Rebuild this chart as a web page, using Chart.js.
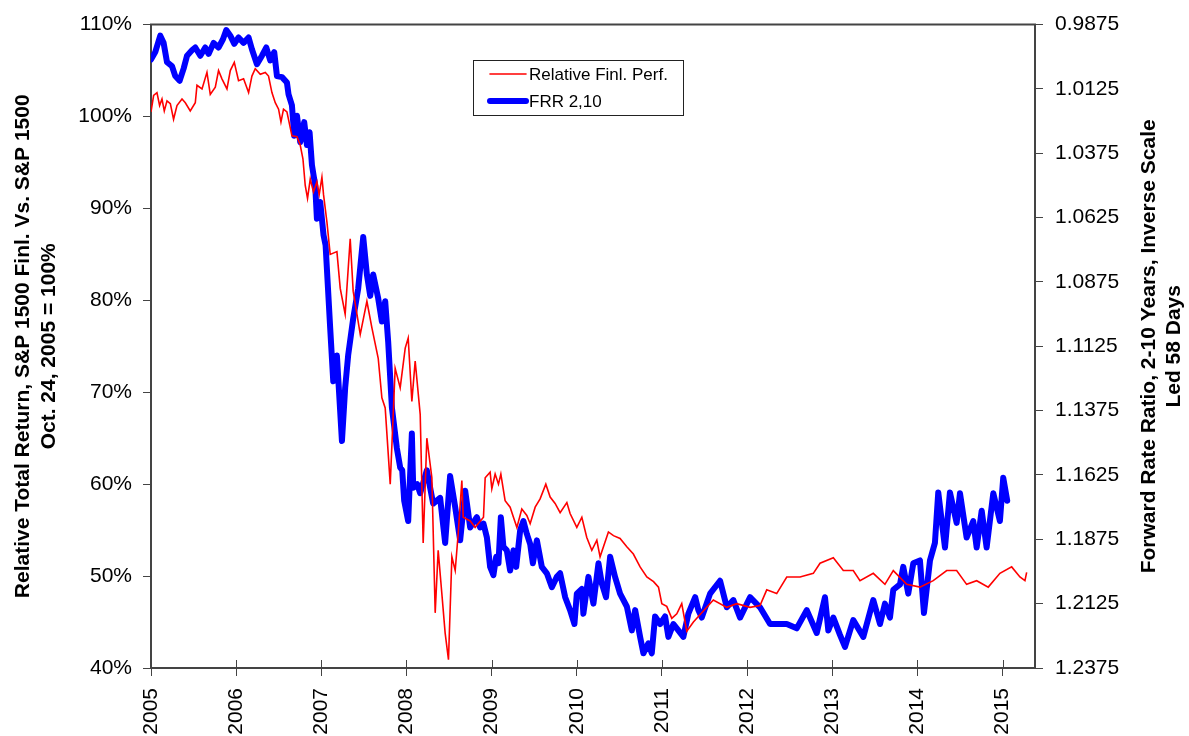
<!DOCTYPE html>
<html>
<head>
<meta charset="utf-8">
<script src="https://cdn.jsdelivr.net/npm/chart.js@4.4.1/dist/chart.umd.min.js"></script>
<style>
  html, body { margin: 0; padding: 0; background: #fff; }
  canvas { display: block; }
</style>
</head>
<body>
<canvas id="chart" width="1189" height="736"></canvas>
<script>
// Relative total return, S&P 1500 Financials vs S&P 1500 (%)
const relYears = [2005.000, 2005.031, 2005.070, 2005.101, 2005.129, 2005.156, 2005.188, 2005.227, 2005.265, 2005.305,
    2005.364, 2005.403, 2005.461, 2005.520, 2005.540, 2005.599, 2005.657, 2005.696, 2005.755, 2005.793,
    2005.833, 2005.892, 2005.931, 2005.978, 2006.028, 2006.087, 2006.146, 2006.185, 2006.224, 2006.283,
    2006.342, 2006.380, 2006.420, 2006.459, 2006.498, 2006.526, 2006.556, 2006.596, 2006.655, 2006.714,
    2006.752, 2006.784, 2006.811, 2006.838, 2006.870, 2006.908, 2006.948, 2006.975, 2007.007, 2007.026,
    2007.066, 2007.104, 2007.183, 2007.222, 2007.280, 2007.339, 2007.374, 2007.457, 2007.535, 2007.594,
    2007.668, 2007.711, 2007.750, 2007.809, 2007.867, 2007.926, 2007.985, 2008.020, 2008.063, 2008.102,
    2008.161, 2008.196, 2008.239, 2008.298, 2008.337, 2008.372, 2008.415, 2008.454, 2008.493, 2008.533,
    2008.572, 2008.607, 2008.650, 2008.666, 2008.748, 2008.806, 2008.904, 2008.924, 2008.982, 2009.002,
    2009.041, 2009.080, 2009.108, 2009.158, 2009.217, 2009.256, 2009.296, 2009.354, 2009.413, 2009.452,
    2009.511, 2009.569, 2009.636, 2009.687, 2009.745, 2009.804, 2009.883, 2009.921, 2010.000, 2010.059,
    2010.117, 2010.176, 2010.235, 2010.273, 2010.371, 2010.430, 2010.508, 2010.587, 2010.664, 2010.743,
    2010.822, 2010.901, 2010.959, 2010.998, 2011.056, 2011.115, 2011.174, 2011.232, 2011.291, 2011.369,
    2011.427, 2011.603, 2011.761, 2011.878, 2012.034, 2012.151, 2012.230, 2012.347, 2012.465, 2012.621,
    2012.777, 2012.856, 2013.012, 2013.129, 2013.246, 2013.325, 2013.481, 2013.618, 2013.716, 2013.873,
    2014.029, 2014.185, 2014.343, 2014.460, 2014.577, 2014.695, 2014.831, 2014.968, 2015.106, 2015.203,
    2015.262, 2015.282];
const relValues = [100.5, 102.3, 102.6, 101.2, 101.9, 100.6, 101.7, 101.4, 99.7, 101.2,
    101.9, 101.5, 100.6, 101.5, 103.4, 103.0, 104.8, 102.4, 103.2, 105.0,
    104.1, 103.0, 105.0, 105.9, 103.9, 104.1, 102.6, 104.4, 105.2, 104.6,
    104.8, 104.4, 102.6, 101.5, 100.8, 99.4, 100.8, 100.5, 97.9, 97.8,
    96.9, 95.4, 92.5, 91.1, 93.2, 91.8, 92.9, 91.5, 93.4, 91.5,
    88.5, 85.0, 85.3, 81.3, 78.5, 86.7, 81.0, 76.3, 79.9, 77.0,
    73.7, 69.4, 68.3, 60.0, 72.6, 70.5, 74.8, 75.9, 69.0, 73.4,
    67.6, 53.6, 65.0, 60.7, 46.0, 52.8, 48.1, 43.8, 40.9, 52.1,
    50.6, 54.6, 60.4, 56.4, 56.0, 55.3, 56.4, 60.7, 61.3, 59.5,
    61.1, 60.0, 61.1, 58.2, 57.5, 56.4, 55.3, 57.3, 56.6, 55.7,
    57.5, 58.4, 60.0, 58.6, 57.9, 56.9, 58.0, 56.8, 55.3, 56.4,
    54.2, 52.8, 53.9, 52.1, 54.8, 54.4, 54.1, 53.2, 52.4, 51.0,
    49.9, 49.4, 48.8, 47.0, 46.7, 45.4, 45.9, 47.0, 44.0, 45.0,
    45.6, 47.4, 46.6, 47.0, 46.6, 46.8, 48.5, 48.1, 49.9, 49.9,
    50.3, 51.4, 52.0, 50.6, 50.6, 49.5, 50.3, 49.1, 50.6, 49.1,
    48.8, 49.5, 50.6, 50.6, 49.1, 49.5, 48.8, 50.3, 51.0, 49.9,
    49.5, 50.4];

// Forward rate ratio 2-10 years, led 58 days (plotted on inverse scale)
const frrYears = [2005.000, 2005.050, 2005.109, 2005.148, 2005.188, 2005.246, 2005.285, 2005.336, 2005.383, 2005.423,
    2005.481, 2005.520, 2005.579, 2005.637, 2005.676, 2005.735, 2005.793, 2005.845, 2005.884, 2005.931,
    2005.978, 2006.028, 2006.087, 2006.146, 2006.185, 2006.244, 2006.303, 2006.353, 2006.400, 2006.447,
    2006.479, 2006.538, 2006.596, 2006.615, 2006.655, 2006.682, 2006.714, 2006.752, 2006.799, 2006.831,
    2006.862, 2006.890, 2006.928, 2006.948, 2006.987, 2007.026, 2007.050, 2007.104, 2007.140, 2007.183,
    2007.242, 2007.280, 2007.316, 2007.374, 2007.433, 2007.492, 2007.535, 2007.574, 2007.609, 2007.668,
    2007.711, 2007.750, 2007.785, 2007.829, 2007.887, 2007.926, 2007.950, 2007.973, 2008.020, 2008.063,
    2008.079, 2008.126, 2008.161, 2008.239, 2008.313, 2008.395, 2008.454, 2008.512, 2008.572, 2008.630,
    2008.689, 2008.748, 2008.826, 2008.865, 2008.904, 2008.944, 2008.982, 2009.021, 2009.053, 2009.080,
    2009.108, 2009.138, 2009.178, 2009.217, 2009.256, 2009.288, 2009.335, 2009.373, 2009.413, 2009.452,
    2009.484, 2009.531, 2009.589, 2009.648, 2009.707, 2009.765, 2009.804, 2009.863, 2009.921, 2009.972,
    2010.000, 2010.059, 2010.077, 2010.136, 2010.195, 2010.254, 2010.293, 2010.343, 2010.391, 2010.449,
    2010.508, 2010.587, 2010.646, 2010.685, 2010.743, 2010.782, 2010.840, 2010.880, 2010.919, 2010.978,
    2011.037, 2011.075, 2011.134, 2011.192, 2011.251, 2011.310, 2011.390, 2011.427, 2011.467, 2011.565,
    2011.682, 2011.761, 2011.838, 2011.917, 2012.034, 2012.151, 2012.269, 2012.465, 2012.582, 2012.700,
    2012.817, 2012.914, 2012.953, 2013.012, 2013.090, 2013.149, 2013.246, 2013.364, 2013.481, 2013.560,
    2013.618, 2013.677, 2013.716, 2013.795, 2013.833, 2013.892, 2013.951, 2014.029, 2014.076, 2014.147,
    2014.205, 2014.244, 2014.323, 2014.381, 2014.460, 2014.499, 2014.577, 2014.655, 2014.695, 2014.754,
    2014.812, 2014.890, 2014.968, 2015.007, 2015.054];
const frrValues = [1.0011, 0.9982, 0.9918, 0.9946, 1.0021, 1.0036, 1.0075, 1.0093, 1.0046, 0.9996,
    0.9975, 0.9964, 0.9996, 0.9964, 0.9989, 0.9946, 0.9964, 0.9932, 0.9896, 0.9918,
    0.9950, 0.9925, 0.9946, 0.9925, 0.9971, 1.0029, 0.9996, 0.9964, 1.0014, 0.9982,
    1.0075, 1.0079, 1.0100, 1.0146, 1.0189, 1.0307, 1.0229, 1.0332, 1.0254, 1.0343,
    1.0293, 1.0421, 1.0500, 1.0629, 1.0564, 1.0693, 1.0732, 1.1054, 1.1261, 1.1161,
    1.1493, 1.1286, 1.1157, 1.1018, 1.0900, 1.0700, 1.0846, 1.0929, 1.0846, 1.0939,
    1.1029, 1.0950, 1.1107, 1.1364, 1.1521, 1.1596, 1.1607, 1.1725, 1.1804, 1.1464,
    1.1675, 1.1661, 1.1696, 1.1607, 1.1736, 1.1714, 1.1889, 1.1629, 1.1750, 1.1879,
    1.1686, 1.1829, 1.1789, 1.1829, 1.1814, 1.1868, 1.1982, 1.2014, 1.1943, 1.1968,
    1.1789, 1.1904, 1.1918, 1.1996, 1.1918, 1.1982, 1.1839, 1.1804, 1.1854, 1.1893,
    1.1968, 1.1879, 1.1982, 1.2007, 1.2061, 1.2021, 1.2007, 1.2100, 1.2150, 1.2204,
    1.2086, 1.2068, 1.2164, 1.2021, 1.2125, 1.1968, 1.2046, 1.2100, 1.1943, 1.2021,
    1.2086, 1.2136, 1.2229, 1.2150, 1.2254, 1.2318, 1.2279, 1.2318, 1.2175, 1.2204,
    1.2175, 1.2254, 1.2204, 1.2229, 1.2254, 1.2164, 1.2100, 1.2150, 1.2179, 1.2086,
    1.2036, 1.2139, 1.2111, 1.2179, 1.2100, 1.2139, 1.2204, 1.2204, 1.2221, 1.2150,
    1.2239, 1.2100, 1.2229, 1.2179, 1.2246, 1.2293, 1.2189, 1.2254, 1.2111, 1.2204,
    1.2125, 1.2179, 1.2071, 1.2050, 1.1982, 1.2086, 1.1968, 1.1957, 1.2161, 1.1957,
    1.1889, 1.1693, 1.1907, 1.1693, 1.1811, 1.1696, 1.1868, 1.1804, 1.1907, 1.1764,
    1.1907, 1.1696, 1.1804, 1.1636, 1.1725];

const leftTitle = ['Relative Total Return, S&P 1500 Finl. Vs. S&P 1500', 'Oct. 24, 2005 = 100%'];
const rightTitle = ['Forward Rate Ratio, 2-10 Years, Inverse Scale', 'Led 58 Days'];
const frrTicks = [0.9875, 1.0125, 1.0375, 1.0625, 1.0875, 1.1125, 1.1375, 1.1625, 1.1875, 1.2125, 1.2375];

const FONT = "'Liberation Sans', Arial, sans-serif";
const AXIS = '#444';

const decor = {
    id: 'decor',
    afterDraw(chart) {
        const ctx = chart.ctx;
        const a = chart.chartArea;
        const x = chart.scales.x;
        ctx.save();
        // top frame line
        ctx.strokeStyle = AXIS;
        ctx.lineWidth = 2;
        ctx.beginPath();
        ctx.moveTo(a.left - 1, a.top);
        ctx.lineTo(a.right + 1, a.top);
        ctx.stroke();
        // year ticks cross the axis
        ctx.lineWidth = 1;
        x.ticks.forEach(t => {
            const px = Math.round(x.getPixelForValue(t.value)) + 0.5;
            ctx.beginPath();
            ctx.moveTo(px, a.bottom);
            ctx.lineTo(px, a.bottom - 8);
            ctx.stroke();
        });

        // axis titles, both read bottom to top
        ctx.fillStyle = '#000';
        ctx.font = 'bold 21px ' + FONT;
        ctx.textAlign = 'center';
        ctx.textBaseline = 'middle';
        const cy = (a.top + a.bottom) / 2;
        [[leftTitle, [23, 49]], [rightTitle, [1149, 1174]]].forEach(([lines, xs]) => {
            lines.forEach((txt, i) => {
                ctx.save();
                ctx.translate(xs[i], cy);
                ctx.rotate(-Math.PI / 2);
                ctx.fillText(txt, 0, 0);
                ctx.restore();
            });
        });

        // legend box
        ctx.fillStyle = '#fff';
        ctx.fillRect(473.5, 60.5, 210, 55);
        ctx.strokeStyle = '#222';
        ctx.lineWidth = 1;
        ctx.strokeRect(473.5, 60.5, 210, 55);
        ctx.font = '17px ' + FONT;
        ctx.textAlign = 'left';
        chart.data.datasets.forEach((ds, i) => {
            const ly = 74 + i * 27;
            ctx.strokeStyle = ds.borderColor;
            ctx.lineWidth = ds.borderWidth;
            ctx.lineCap = 'round';
            ctx.beginPath();
            ctx.moveTo(490, ly);
            ctx.lineTo(526, ly);
            ctx.stroke();
            ctx.fillStyle = '#000';
            ctx.fillText(ds.label, 529, ly + 1);
        });
        ctx.restore();
    }
};

const ctx = document.getElementById('chart').getContext('2d');
const chart = new Chart(ctx, {
    type: 'line',
    data: {
        datasets: [
            {
                label: 'Relative Finl. Perf.',
                data: relYears.map((yr, i) => ({ x: yr, y: relValues[i] })),
                borderColor: '#ff0000',
                borderWidth: 1.6,
                pointRadius: 0,
                tension: 0,
                yAxisID: 'y',
            },
            {
                label: 'FRR 2,10',
                data: frrYears.map((yr, i) => ({ x: yr, y: frrValues[i] })),
                borderColor: '#0000ff',
                borderWidth: 6,
                pointRadius: 0,
                tension: 0,
                borderJoinStyle: 'round',
                borderCapStyle: 'round',
                yAxisID: 'y1',
            }
        ]
    },
    options: {
        responsive: false,
        animation: false,
        layout: { padding: { top: 22, left: 0, right: 0, bottom: 0 } },
        plugins: {
            legend: { display: false },
            tooltip: { enabled: false },
        },
        scales: {
            x: {
                type: 'linear',
                position: 'bottom',
                min: 2005,
                max: 2015.38,
                afterFit: s => { s.height = 68; },
                ticks: {
                    stepSize: 1,
                    includeBounds: false,
                    minRotation: 90,
                    maxRotation: 90,
                    padding: 12,
                    color: '#000',
                    font: { family: FONT, size: 21 },
                    callback: v => String(v),
                },
                grid: { drawOnChartArea: false, tickLength: 8, color: AXIS },
                border: { color: AXIS, width: 2 },
            },
            y: {
                position: 'left',
                min: 40,
                max: 110,
                afterFit: s => { s.width = 151; },
                ticks: {
                    stepSize: 10,
                    padding: 11,
                    color: '#000',
                    font: { family: FONT, size: 21 },
                    callback: v => v + '%',
                },
                grid: { drawOnChartArea: false, tickLength: 8, color: AXIS },
                border: { color: AXIS, width: 2 },
            },
            y1: {
                position: 'right',
                min: 0.9875,
                max: 1.2375,
                reverse: true,
                afterFit: s => { s.width = 154; },
                afterBuildTicks: s => { s.ticks = frrTicks.map(v => ({ value: v })); },
                ticks: {
                    padding: 12,
                    color: '#000',
                    font: { family: FONT, size: 21 },
                    callback: v => v.toFixed(4),
                },
                grid: { drawOnChartArea: false, tickLength: 8, color: AXIS },
                border: { color: AXIS, width: 2 },
            }
        }
    },
    plugins: [decor]
});
</script>
</body>
</html>
